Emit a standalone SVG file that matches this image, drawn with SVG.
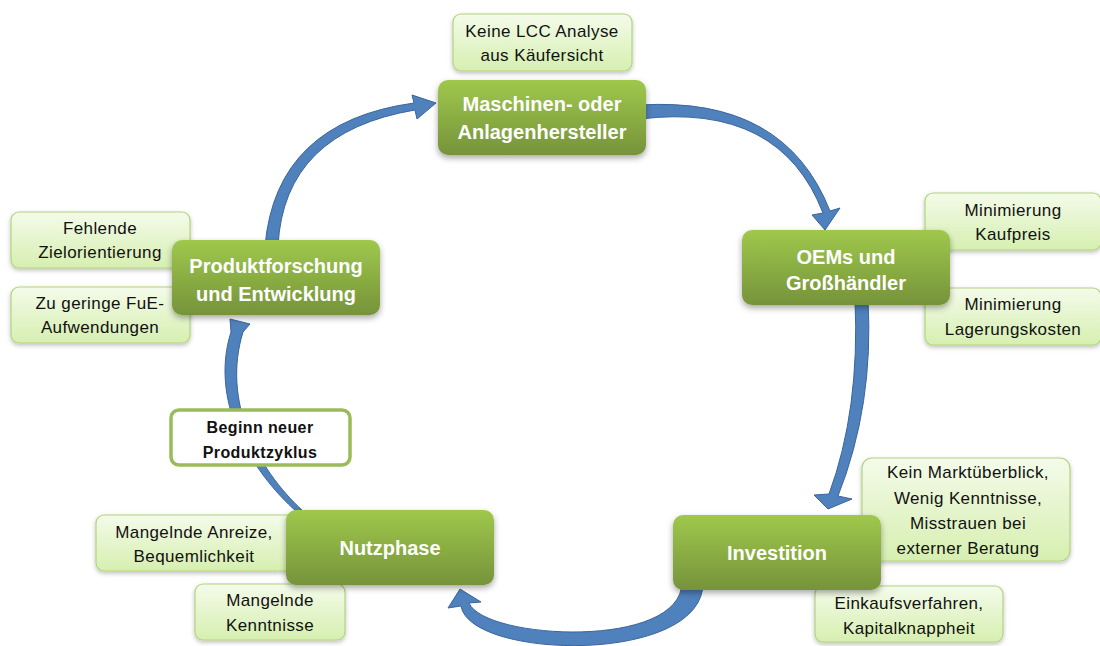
<svg xmlns="http://www.w3.org/2000/svg" width="1100" height="646" viewBox="0 0 1100 646">
<defs>
  <linearGradient id="gMain" x1="0" y1="0" x2="0" y2="1">
    <stop offset="0" stop-color="#9fc84c"/>
    <stop offset="1" stop-color="#76933a"/>
  </linearGradient>
  <linearGradient id="gNote" x1="0" y1="0" x2="0" y2="1">
    <stop offset="0" stop-color="#f4fbea"/>
    <stop offset="1" stop-color="#d6efb0"/>
  </linearGradient>
  <filter id="sh" x="-20%" y="-20%" width="140%" height="150%">
    <feDropShadow dx="0" dy="3" stdDeviation="3" flood-color="#000" flood-opacity="0.35"/>
  </filter>
  <filter id="sh2" x="-20%" y="-20%" width="140%" height="150%">
    <feDropShadow dx="0" dy="2" stdDeviation="2" flood-color="#000" flood-opacity="0.25"/>
  </filter>
</defs>
<style>
  .arrow { fill: #4f81bd; stroke: #3a659b; stroke-width: 1; }
  .main { fill: url(#gMain); filter: url(#sh); }
  .note { fill: url(#gNote); stroke: #b1d47e; stroke-width: 1.2; filter: url(#sh2); }
  .begin { fill: #ffffff; stroke: #9bbb59; stroke-width: 3.5; }
  .mt { font-family: "Liberation Sans", Arial, sans-serif; font-weight: bold; font-size: 20px; fill: #ffffff; text-anchor: middle; }
  .nt { font-family: "Liberation Sans", Arial, sans-serif; font-size: 17px; fill: #111111; text-anchor: middle; letter-spacing: 0.4px; }
  .bt { font-family: "Liberation Sans", Arial, sans-serif; font-weight: bold; font-size: 16px; fill: #111111; text-anchor: middle; letter-spacing: 0.4px; }
</style>

<g id="connectors">
  <path class="arrow" d="M 265 246 Q 276 122 414 103 L 412 95 L 436 103 L 417 119 L 415 110 Q 284 132 278 246 Z"/>
  <path class="arrow" d="M 640 105 Q 785 96 830 211 L 840 208 L 825 230 L 812 215 L 823 213 Q 780 102 640 119 Z"/>
  <path class="arrow" d="M 855 300 Q 860 410 829 494 L 814 495 L 828 509 L 852 499 L 838 496 Q 874 405 868 300 Z"/>
  <path class="arrow" d="M 703 582 C 705 665 470 660 461 606 L 448 608 L 460 589 L 481 602 L 469 603 C 485 640 682 650 682 582 Z"/>
  <path class="arrow" d="M 298 513 C 247 468 210 398 231 332 L 230 319 L 250 324 L 243 332 C 222 400 256 468 303 511 Z"/>
</g>

<g id="note-lcc">
  <rect class="note" x="453" y="14" width="179" height="57" rx="8"/>
  <text class="nt" x="542" y="37">Keine LCC Analyse</text>
  <text class="nt" x="542" y="61">aus Käufersicht</text>
</g>
<g id="note-kaufpreis">
  <rect class="note" x="925" y="193" width="176" height="57" rx="8"/>
  <text class="nt" x="1013" y="216">Minimierung</text>
  <text class="nt" x="1013" y="240">Kaufpreis</text>
</g>
<g id="note-lager">
  <rect class="note" x="925" y="288" width="176" height="57" rx="8"/>
  <text class="nt" x="1013" y="310">Minimierung</text>
  <text class="nt" x="1013" y="335">Lagerungskosten</text>
</g>
<g id="note-ziel">
  <rect class="note" x="11" y="212" width="179" height="56" rx="8"/>
  <text class="nt" x="100" y="234">Fehlende</text>
  <text class="nt" x="100" y="258">Zielorientierung</text>
</g>
<g id="note-fue">
  <rect class="note" x="11" y="287" width="179" height="56" rx="8"/>
  <text class="nt" x="100" y="309">Zu geringe FuE-</text>
  <text class="nt" x="100" y="333">Aufwendungen</text>
</g>
<g id="note-beginn">
  <rect class="begin" x="171" y="410" width="179" height="55" rx="8"/>
  <text class="bt" x="260" y="433">Beginn neuer</text>
  <text class="bt" x="260" y="458">Produktzyklus</text>
</g>
<g id="note-anreize">
  <rect class="note" x="96" y="515" width="200" height="56" rx="8"/>
  <text class="nt" x="194" y="538">Mangelnde Anreize,</text>
  <text class="nt" x="194" y="562">Bequemlichkeit</text>
</g>
<g id="note-kenntnisse">
  <rect class="note" x="195" y="584" width="150" height="56" rx="8"/>
  <text class="nt" x="270" y="606">Mangelnde</text>
  <text class="nt" x="270" y="631">Kenntnisse</text>
</g>
<g id="note-markt">
  <rect class="note" x="862" y="458" width="208" height="103" rx="10"/>
  <text class="nt" x="968" y="478">Kein Marktüberblick,</text>
  <text class="nt" x="968" y="504">Wenig Kenntnisse,</text>
  <text class="nt" x="968" y="529">Misstrauen bei</text>
  <text class="nt" x="968" y="554">externer Beratung</text>
</g>
<g id="note-einkauf">
  <rect class="note" x="815" y="586" width="188" height="56" rx="8"/>
  <text class="nt" x="909" y="609">Einkaufsverfahren,</text>
  <text class="nt" x="909" y="634">Kapitalknappheit</text>
</g>

<g id="node-maschinen">
  <rect class="main" x="438" y="80" width="208" height="75" rx="10"/>
  <text class="mt" x="542" y="111">Maschinen- oder</text>
  <text class="mt" x="542" y="139">Anlagenhersteller</text>
</g>
<g id="node-oems">
  <rect class="main" x="742" y="230" width="208" height="75" rx="10"/>
  <text class="mt" x="846" y="264">OEMs und</text>
  <text class="mt" x="846" y="290">Großhändler</text>
</g>
<g id="node-produkt">
  <rect class="main" x="172" y="240" width="208" height="75" rx="10"/>
  <text class="mt" x="276" y="273">Produktforschung</text>
  <text class="mt" x="276" y="301">und Entwicklung</text>
</g>
<g id="node-nutzphase">
  <rect class="main" x="286" y="510" width="208" height="75" rx="10"/>
  <text class="mt" x="390" y="555">Nutzphase</text>
</g>
<g id="node-investition">
  <rect class="main" x="673" y="515" width="208" height="75" rx="10"/>
  <text class="mt" x="777" y="560">Investition</text>
</g>
</svg>
